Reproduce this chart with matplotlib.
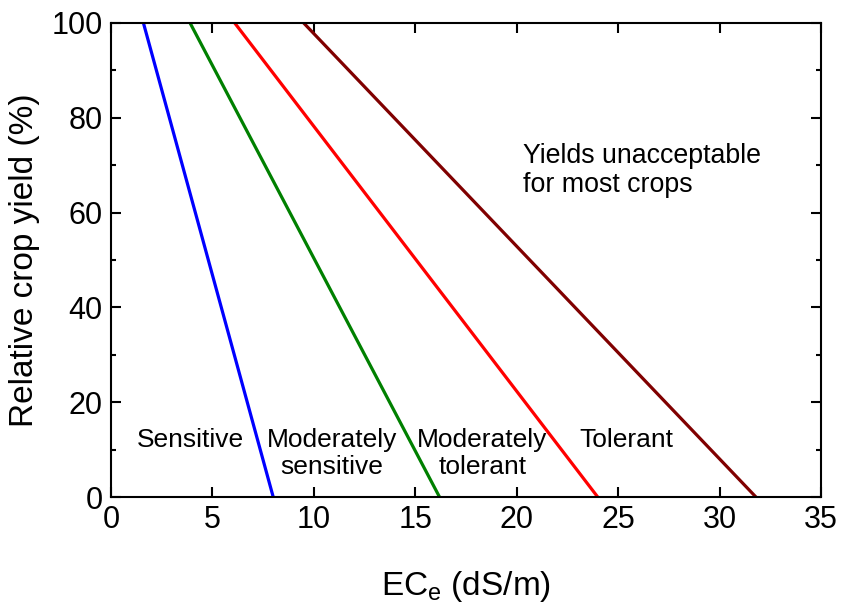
import matplotlib
matplotlib.use('Agg')
import matplotlib.pyplot as plt
from matplotlib.ticker import MultipleLocator

plt.rcParams['font.family'] = ['Liberation Sans', 'DejaVu Sans']
plt.rcParams['mathtext.default'] = 'regular'

# salt tolerance classes: ECe where yield starts to drop, and where it hits zero
classes = ['Sensitive', 'Moderately\nsensitive', 'Moderately\ntolerant', 'Tolerant']
ece_at_100 = [1.6, 3.9, 6.1, 9.5]
ece_at_0 = [8.0, 16.2, 24.0, 31.8]
colors = ['#0000ff', '#008000', '#ff0000', '#800000']
yield_pct = [100, 0]

# class label spots (ECe, yield %)
label_x = [3.9, 10.9, 18.3, 25.4]
label_y = [12.0, 9.2, 9.2, 12.0]

fig = plt.figure(figsize=(8.42, 6.13), dpi=100)
ax = fig.add_axes([0.1318, 0.189, 0.8432, 0.7735])

for lo, hi, c in zip(ece_at_100, ece_at_0, colors):
    ax.plot([lo, hi], yield_pct, color=c, lw=2.3, solid_capstyle='butt')

for name, x, y in zip(classes, label_x, label_y):
    ax.text(x, y, name, fontsize=19, ha='center', va='center', linespacing=1.15)

ax.text(20.3, 68.8, 'Yields unacceptable\nfor most crops', fontsize=19.3,
        ha='left', va='center', linespacing=1.15)

ax.set_xlim(0, 35)
ax.set_ylim(0, 100)
ax.xaxis.set_major_locator(MultipleLocator(5))
ax.yaxis.set_major_locator(MultipleLocator(20))
ax.yaxis.set_minor_locator(MultipleLocator(10))
ax.tick_params(which='both', direction='in', top=True, right=True, width=1.5)
ax.tick_params(which='major', length=7, labelsize=22, pad=6)
ax.tick_params(which='minor', length=3.5)
for s in ax.spines.values():
    s.set_linewidth(1.5)

ax.set_xlabel('EC$_e$ (dS/m)', fontsize=24, labelpad=24)
ax.set_ylabel('Relative crop yield (%)', fontsize=24, labelpad=8)

fig.savefig('out.png', dpi=100)
